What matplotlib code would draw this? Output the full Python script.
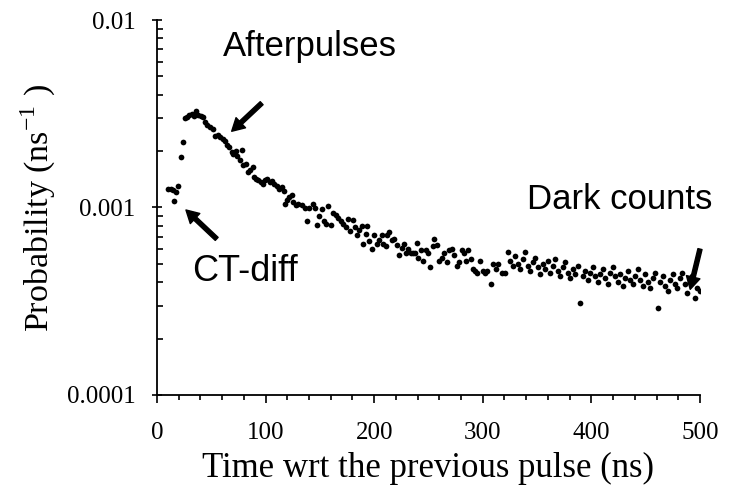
import matplotlib
matplotlib.use("Agg")
from matplotlib import pyplot as plt
from matplotlib.ticker import FixedLocator, MultipleLocator, LogLocator, NullFormatter

# Time bins (ns) and probability per ns
times = [
    10.4, 12.6, 15.0, 15.9, 17.5, 19.6, 21.8, 23.7, 25.8, 27.9, 29.7, 32.0, 34.1, 35.9,
    38.0, 40.2, 42.1, 44.2, 45.8, 48.8, 51.3, 53.4, 56.4, 58.0, 60.5, 62.6, 64.7, 66.6,
    68.8, 70.3, 72.7, 73.9, 76.4, 78.0, 79.5, 81.9, 84.1, 85.6, 88.1, 89.3, 91.2, 93.3,
    95.5, 97.9, 99.4, 101.6, 104.1, 105.6, 107.7, 110.2, 112.6, 114.8, 116.9, 117.9,
    119.4, 121.8, 124.0, 125.5, 128.0, 130.1,
    133.2, 136.3, 137.8, 140.2, 143.4, 145.5, 147.6, 149.4, 151.7, 153.8, 155.6, 157.7,
    159.9, 162.3, 164.8, 166.9, 169.2, 171.5, 174.0, 176.1, 177.7, 180.2, 182.3, 183.9,
    186.3, 188.5, 190.0, 192.4, 193.6, 195.5, 197.7, 199.8, 202.3, 204.7, 206.9, 208.4,
    210.9, 212.1, 213.9, 216.1, 218.2, 220.7, 223.1, 225.3, 227.4, 229.3, 231.4, 233.6,
    236.0, 237.6, 239.7, 240.6, 242.8, 245.2, 247.7, 249.8, 251.4, 253.9, 255.3, 257.5,
    259.9, 262.2, 264.3, 266.8, 269.1, 271.4, 273.5, 276.0, 278.4, 280.6, 282.7, 284.5,
    286.6, 288.8, 290.7, 292.8, 294.9, 297.4, 299.9, 301.9, 304.1, 307.3, 309.7, 312.2,
    314.3, 317.4, 320.4, 323.2,
    325.5, 327.8, 330.0, 332.3, 334.6, 336.9, 339.2, 341.5, 343.8, 346.0, 348.4, 350.6,
    352.9, 355.2, 357.5, 359.8, 362.1, 364.4, 366.7, 369.0, 371.3, 373.6, 375.8, 378.1,
    380.4, 382.7, 385.0, 387.3, 389.6, 391.9, 394.2, 396.5, 398.8, 401.1, 403.4, 405.7,
    408.0, 410.3, 412.6, 414.9, 417.2, 419.5, 421.8, 424.1, 426.4, 428.7, 431.0, 433.3,
    435.6, 437.9, 440.2, 442.5, 444.8, 447.1, 449.4, 451.7, 454.0, 456.3, 458.6, 460.9,
    463.2, 465.5, 467.8, 470.1, 472.4, 474.7, 477.0, 479.3, 481.6, 483.9, 486.2, 488.5,
    490.8, 493.1, 495.4, 497.7, 500.0,
]
probs = [
    0.00125, 0.00126, 0.00124, 0.00108, 0.00121, 0.00131, 0.00186, 0.00224, 0.00300, 0.00304,
    0.00310, 0.00316, 0.00308, 0.00326, 0.00310, 0.00308, 0.00304, 0.00286, 0.00274, 0.00269,
    0.00261, 0.00242, 0.00244, 0.00238, 0.00231, 0.00226, 0.00215, 0.00211, 0.00198, 0.00194,
    0.00200, 0.00188, 0.00179, 0.00202, 0.00168, 0.00171, 0.00155, 0.00158, 0.00164, 0.00145,
    0.00142, 0.00140, 0.00137, 0.00134, 0.00140, 0.00142, 0.00137, 0.00138, 0.00134, 0.00131,
    0.00126, 0.00128, 0.00123, 0.00105, 0.00109, 0.00114, 0.00116, 0.00107, 0.00103, 0.00105,
    0.00103, 0.00099, 0.00085, 0.00099, 0.00105, 0.00099, 0.00081, 0.00090, 0.00098, 0.00085,
    0.00082, 0.00102, 0.00081, 0.00093, 0.00091, 0.00088, 0.00085, 0.00082, 0.00079, 0.00087,
    0.00075, 0.00086, 0.00079, 0.00071, 0.00076, 0.00080, 0.00064, 0.00072, 0.00080, 0.00066,
    0.00060, 0.00071, 0.00064, 0.00067, 0.00071, 0.00064, 0.00062, 0.00071, 0.00074, 0.00067,
    0.00068, 0.00063, 0.00056, 0.00061, 0.00064, 0.00057, 0.00060, 0.00057, 0.00057, 0.00057,
    0.00065, 0.00054, 0.00059, 0.00052, 0.00059, 0.00057, 0.00048, 0.00062, 0.00068, 0.00063,
    0.00052, 0.00054, 0.00057, 0.00051, 0.00059, 0.00060, 0.00056, 0.00049, 0.00051, 0.00059,
    0.00057, 0.00052, 0.00059, 0.00053, 0.00047, 0.00046, 0.00045, 0.00052, 0.00046, 0.00045,
    0.00046, 0.00039, 0.00050, 0.00047, 0.00050, 0.00045, 0.00045, 0.00058,
    0.00052, 0.00049, 0.00055, 0.00050, 0.00047, 0.00053, 0.00058, 0.00049, 0.00046, 0.00051,
    0.00054, 0.00048, 0.00044, 0.00050, 0.00047, 0.00052, 0.00045, 0.00049, 0.00053, 0.00046,
    0.00043, 0.00048, 0.00051, 0.00045, 0.00042, 0.00047, 0.00044, 0.00049, 0.00031, 0.00043,
    0.00046, 0.00041, 0.00045, 0.00048, 0.00043, 0.00040, 0.00044, 0.00047, 0.00042, 0.00039,
    0.00045, 0.00048, 0.00043, 0.00040, 0.00044, 0.00038, 0.00042, 0.00046, 0.00041, 0.00039,
    0.00043, 0.00047, 0.00041, 0.00038, 0.00044, 0.00040, 0.00037, 0.00042, 0.00045, 0.00029,
    0.00040, 0.00043, 0.00038, 0.00036, 0.00041, 0.00044, 0.00039, 0.00037, 0.00042, 0.00045,
    0.00039, 0.00035, 0.00040, 0.00043, 0.00033, 0.00037, 0.00036,
]

x_ticks = [0, 100, 200, 300, 400, 500]
y_ticks = [0.0001, 0.001, 0.01]
y_tick_labels = ["0.0001", "0.001", "0.01"]

serif = "Liberation Serif"
sans = "Liberation Sans"
plt.rcParams["mathtext.fontset"] = "custom"
plt.rcParams["mathtext.rm"] = serif

fig = plt.figure(figsize=(7.39, 4.88), dpi=100)
ax = fig.add_axes([0.2124, 0.1906, 0.7348, 0.7684])

ax.scatter(times, probs, s=17, color="black", linewidths=0, zorder=3)

ax.set_yscale("log")
ax.set_xlim(0, 500)
ax.set_ylim(0.0001, 0.01)

# Ticks
ax.xaxis.set_major_locator(FixedLocator(x_ticks))
ax.xaxis.set_minor_locator(MultipleLocator(20))
ax.set_xticklabels([str(t) for t in x_ticks], family=serif, fontsize=18)
ax.yaxis.set_major_locator(FixedLocator(y_ticks))
ax.yaxis.set_minor_locator(LogLocator(base=10, subs=range(2, 10)))
ax.yaxis.set_minor_formatter(NullFormatter())
ax.set_yticklabels(y_tick_labels, family=serif, fontsize=18)

ax.tick_params(axis="x", which="major", direction="out", length=5.5, width=1.2, pad=14)
ax.tick_params(axis="x", which="minor", direction="out", length=3.5, width=1.2)
ax.tick_params(axis="y", which="major", direction="inout", length=7, width=1.2, pad=12)
ax.tick_params(axis="y", which="minor", direction="in", length=4, width=1.2)

for side in ["top", "right"]:
    ax.spines[side].set_visible(False)
for side in ["left", "bottom"]:
    ax.spines[side].set_linewidth(1.3)

ax.set_xlabel("Time wrt the previous pulse (ns)", family=serif, fontsize=25, labelpad=6)
ax.set_ylabel(r"Probability (ns$^{-1}$ )", family=serif, fontsize=24.5, labelpad=6)

# Annotations
arrow = dict(facecolor="black", edgecolor="black", width=3, headwidth=10,
             headlength=9, shrink=0)
ax.annotate("", xy=(68.8, 0.00255), xytext=(96.4, 0.0036), arrowprops=arrow)
ax.text(141, 0.0072, "Afterpulses", family=sans, fontsize=25,
        ha="center", va="center")

ax.annotate("", xy=(26.7, 0.00097), xytext=(55, 0.00068), arrowprops=arrow)
ax.text(81, 0.000457, "CT-diff", family=sans, fontsize=26,
        ha="center", va="center")

ax.annotate("", xy=(491, 0.000366), xytext=(500, 0.0006), arrowprops=arrow,
            annotation_clip=False)
ax.text(426, 0.0011, "Dark counts", family=sans, fontsize=25,
        ha="center", va="center", clip_on=False)

fig.savefig("out.png", dpi=100)
